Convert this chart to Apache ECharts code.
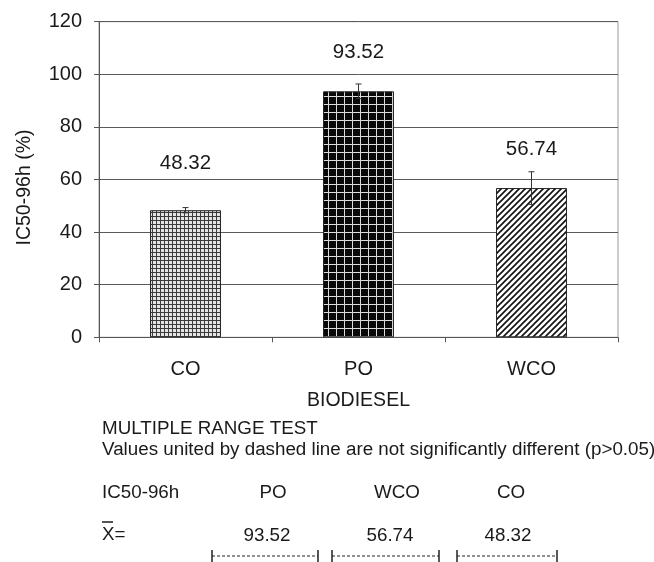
<!DOCTYPE html>
<html>
<head>
<meta charset="utf-8">
<script src="https://cdn.jsdelivr.net/npm/echarts@6/dist/echarts.min.js"></script>
<style>
  html, body { margin: 0; padding: 0; background: #fff; }
  #chart { width: 654px; height: 562px; }
</style>
</head>
<body>
<div id="chart"></div>
<script>
// data
var categories = ['CO', 'PO', 'WCO'];
var meanValues = [48.32, 93.52, 56.74];
var errValues = [1.0, 2.8, 6.2];
var patterns = ['fineGrid', 'blackGrid', 'hatch'];

var FONT = '"Liberation Sans", Arial, sans-serif';
var INK = '#1a1a1a';

function makePattern(kind) {
  var c = document.createElement('canvas');
  var ctx = c.getContext('2d');
  if (kind === 'fineGrid') {
    c.width = 4; c.height = 4;
    ctx.fillStyle = '#e4e4e4';
    ctx.fillRect(0, 0, 4, 4);
    ctx.fillStyle = '#3a3a3a';
    ctx.fillRect(0, 0, 4, 1);
    ctx.fillRect(0, 0, 1, 4);
  } else if (kind === 'blackGrid') {
    c.width = 8; c.height = 8;
    ctx.fillStyle = '#080808';
    ctx.fillRect(0, 0, 8, 8);
    ctx.fillStyle = '#dcdcdc';
    ctx.fillRect(0, 0, 8, 1);
    ctx.fillRect(0, 0, 1, 8);
  } else {
    c.width = 6; c.height = 6;
    ctx.fillStyle = '#fff';
    ctx.fillRect(0, 0, 6, 6);
    ctx.strokeStyle = '#111';
    ctx.lineWidth = 1.6;
    ctx.beginPath();
    ctx.moveTo(-1, 7); ctx.lineTo(7, -1);
    ctx.moveTo(-4, 4); ctx.lineTo(4, -4);
    ctx.moveTo(2, 10); ctx.lineTo(10, 2);
    ctx.stroke();
  }
  return { image: c, repeat: 'repeat' };
}

var chart = echarts.init(document.getElementById('chart'));

// multiple range test table, ranked by mean
var ranked = categories.map(function (c, i) { return { name: c, v: meanValues[i] }; })
  .sort(function (a, b) { return b.v - a.v; });
var nameX = [273, 397, 511];
var valX = [267, 390, 508];
var brackets = [[212, 318], [332, 439], [457, 557]];

function txt(s, x, y, align) {
  return { type: 'text', x: x, y: y, style: { text: s, font: '18.8px ' + FONT, fill: INK, textAlign: align || 'left', textVerticalAlign: 'middle' } };
}

var graphics = [
  txt('MULTIPLE RANGE TEST', 102, 429),
  txt('Values united by dashed line are not significantly different (p>0.05)', 102, 450),
  txt('IC50-96h', 102, 493),
  txt('X=', 102, 535),
  { type: 'line', shape: { x1: 102, y1: 522, x2: 113, y2: 522 }, style: { stroke: INK, lineWidth: 1.5 } }
];
ranked.forEach(function (r, i) {
  graphics.push(txt(r.name, nameX[i], 493, 'center'));
  graphics.push(txt(r.v.toFixed(2), valX[i], 536, 'center'));
  var b = brackets[i];
  graphics.push({ type: 'line', shape: { x1: b[0], y1: 556, x2: b[1], y2: 556 }, style: { stroke: '#222', lineWidth: 1, lineDash: [3, 2] } });
  graphics.push({ type: 'line', shape: { x1: b[0], y1: 550, x2: b[0], y2: 562 }, style: { stroke: '#222', lineWidth: 1.5 } });
  graphics.push({ type: 'line', shape: { x1: b[1], y1: 550, x2: b[1], y2: 562 }, style: { stroke: '#222', lineWidth: 1.5 } });
});

var option = {
  backgroundColor: '#fff',
  animation: false,
  textStyle: { fontFamily: FONT },
  grid: {
    left: 99, right: 36, top: 21.7, bottom: 224.7,
    show: true, borderColor: '#9a9a9a', borderWidth: 1
  },
  xAxis: {
    type: 'category',
    data: categories,
    name: 'BIODIESEL',
    nameLocation: 'middle',
    nameGap: 53,
    nameTextStyle: { fontSize: 19.5, color: INK, fontFamily: FONT },
    axisLine: { lineStyle: { color: '#555' } },
    axisTick: { show: true, length: 5, lineStyle: { color: '#555' } },
    axisLabel: { fontSize: 20, color: INK, margin: 22, fontFamily: FONT }
  },
  yAxis: {
    type: 'value',
    min: 0, max: 120, interval: 20,
    name: 'IC50-96h (%)',
    nameLocation: 'middle',
    nameGap: 64,
    nameTextStyle: { fontSize: 19.5, color: INK, fontFamily: FONT, padding: [0, 16, 0, 0] },
    axisLine: { show: true, lineStyle: { color: '#555' } },
    axisTick: { show: true, length: 5, lineStyle: { color: '#555' } },
    axisLabel: { fontSize: 20, color: INK, margin: 17, fontFamily: FONT },
    splitLine: { lineStyle: { color: '#5a5a5a', width: 1 } }
  },
  series: [
    {
      type: 'bar',
      barWidth: '41%',
      data: meanValues.map(function (v, i) {
        return {
          value: v,
          itemStyle: { color: makePattern(patterns[i]) },
          // CO's label sits a little higher above its bar
          label: { distance: i === 0 ? 36 : 28 }
        };
      }),
      itemStyle: { borderColor: '#222', borderWidth: 1 },
      label: {
        show: true, position: 'top',
        fontSize: 20.5, color: INK, fontFamily: FONT,
        formatter: function (p) { return p.value.toFixed(2); }
      }
    },
    {
      type: 'custom',
      z: 10,
      data: meanValues.map(function (v, i) { return [i, v - errValues[i], v + errValues[i]]; }),
      renderItem: function (params, api) {
        var hi = api.coord([api.value(0), api.value(2)]);
        var lo = api.coord([api.value(0), api.value(1)]);
        var w = 3;
        var st = { stroke: '#333', lineWidth: 1 };
        return {
          type: 'group',
          children: [
            { type: 'line', shape: { x1: hi[0], y1: hi[1], x2: lo[0], y2: lo[1] }, style: st },
            { type: 'line', shape: { x1: hi[0] - w, y1: hi[1], x2: hi[0] + w, y2: hi[1] }, style: st },
            { type: 'line', shape: { x1: lo[0] - w, y1: lo[1], x2: lo[0] + w, y2: lo[1] }, style: st }
          ]
        };
      }
    }
  ],
  graphic: graphics
};

option && chart.setOption(option);
</script>
</body>
</html>
